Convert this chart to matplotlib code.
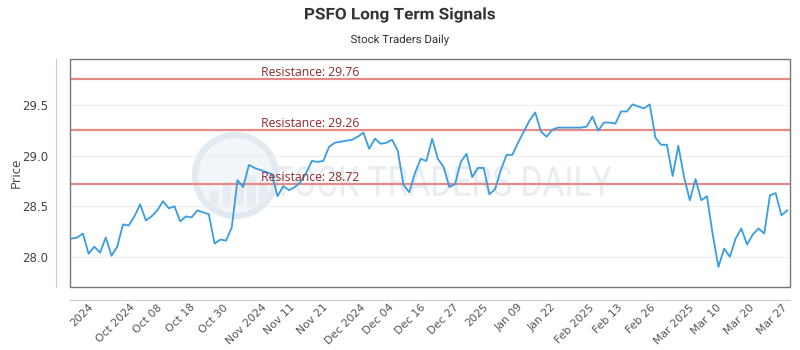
import numpy as np
import matplotlib
matplotlib.use('Agg')
import matplotlib.pyplot as plt
from matplotlib.patches import Rectangle, PathPatch
from matplotlib.textpath import TextPath
from matplotlib.font_manager import FontProperties
from matplotlib.transforms import Affine2D

# Closing prices, one per trading session
prices = [
    28.18, 28.19, 28.23, 28.03, 28.10, 28.04, 28.19, 28.01, 28.10, 28.32,
    28.31, 28.40, 28.52, 28.36, 28.40, 28.46, 28.55, 28.48, 28.50, 28.35,
    28.40, 28.39, 28.46, 28.44, 28.42, 28.13, 28.17, 28.16, 28.29, 28.76,
    28.69, 28.91, 28.88, 28.86, 28.84, 28.82, 28.60, 28.70, 28.66, 28.69,
    28.74, 28.83, 28.95, 28.94, 28.95, 29.09, 29.13, 29.14, 29.15, 29.16,
    29.19, 29.23, 29.07, 29.17, 29.12, 29.13, 29.16, 29.05, 28.71, 28.64,
    28.83, 28.97, 28.95, 29.17, 28.97, 28.89, 28.69, 28.72, 28.94, 29.02,
    28.79, 28.88, 28.88, 28.62, 28.67, 28.86, 29.01, 29.01, 29.13, 29.24,
    29.35, 29.43, 29.24, 29.19, 29.26, 29.28, 29.28, 29.28, 29.28, 29.28,
    29.29, 29.39, 29.25, 29.33, 29.33, 29.32, 29.44, 29.44, 29.51, 29.49,
    29.47, 29.51, 29.18, 29.11, 29.11, 28.80, 29.10, 28.79, 28.56, 28.77,
    28.56, 28.60, 28.22, 27.90, 28.08, 28.00, 28.18, 28.28, 28.12, 28.22,
    28.28, 28.23, 28.61, 28.63, 28.41, 28.46,
]

resistance = [29.76, 29.26, 28.72]

tick_labels = [
    '2024', 'Oct 2024', 'Oct 08', 'Oct 18', 'Oct 30', 'Nov 2024', 'Nov 11',
    'Nov 21', 'Dec 2024', 'Dec 04', 'Dec 16', 'Dec 27', '2025', 'Jan 09',
    'Jan 22', 'Feb 2025', 'Feb 13', 'Feb 26', 'Mar 2025', 'Mar 10', 'Mar 20',
    'Mar 27',
]

DPI = 100


def fitted_text(fig, s, xc, yc, size, width, color, weight='normal', zorder=3):
    # draw a text squeezed/stretched to a given pixel width, centred on (xc, yc)
    path = TextPath((0, 0), s, size=size, prop=FontProperties(family='Roboto', weight=weight))
    ext = path.get_extents()
    k = DPI / 72.0
    sx = width / (ext.width * k)
    tr = (Affine2D().translate(-ext.x0 - ext.width / 2, -ext.y0 - ext.height / 2)
          .scale(sx * k, k).translate(xc, yc))
    fig.add_artist(PathPatch(path, transform=tr, facecolor=color, edgecolor='none',
                             zorder=zorder))


x = np.arange(len(prices))

fig = plt.figure(figsize=(8, 3.5), dpi=DPI)
ax = fig.add_axes([0.0875, 0.18, 0.9, 0.6514])
ax.patch.set_facecolor('none')

# watermark (behind the axes)
fitted_text(fig, 'STOCK TRADERS DAILY', 433, 350 - 181, 30, 357, '#e8edf2', zorder=-2)
ax.scatter([0.229], [0.49], s=3400, transform=ax.transAxes, facecolor='#f3f6f9',
           edgecolor='#e1e9f1', linewidth=4.5, zorder=0)
for bx, bh in zip([0.195, 0.212, 0.229, 0.246, 0.263], [0.06, 0.1, 0.08, 0.13, 0.11]):
    ax.add_patch(Rectangle((bx, 0.36), 0.012, bh, transform=ax.transAxes,
                           facecolor='#e6ecf2', edgecolor='none', zorder=0))

ax.plot(x, prices, color='#3a9de0', linewidth=1.3, zorder=3)

for r in resistance:
    ax.axhline(r, color='#e58a86', linewidth=1.6, zorder=2)
    ax.text(0.265, r, 'Resistance: %.2f' % r, transform=ax.get_yaxis_transform(),
            ha='left', va='bottom', fontsize=8.8, color='#8e2b2b',
            family='Open Sans', zorder=4)

ax.set_xlim(-0.25, len(prices) - 0.5)
ax.set_ylim(27.70, 29.96)
ax.set_yticks([28.0, 28.5, 29.0, 29.5])
ax.yaxis.grid(True, color='#eeeeee', linewidth=0.8)
ax.set_axisbelow(True)

ax.set_xticks(np.linspace(1.9, 122.4, len(tick_labels)))
ax.set_xticklabels(tick_labels)
ax.tick_params(axis='y', length=0, pad=6, labelsize=8.5, labelcolor='#444444')
ax.tick_params(axis='x', length=0, pad=2, labelsize=7.8, labelcolor='#555555',
               labelrotation=45)
for lab in ax.get_xticklabels():
    lab.set_horizontalalignment('right')
    lab.set_rotation_mode('anchor')
    lab.set_family('Open Sans')
for lab in ax.get_yticklabels():
    lab.set_family('Open Sans')

for s in ['top', 'right']:
    ax.spines[s].set_visible(False)
ax.spines['left'].set_position(('outward', 10))
ax.spines['bottom'].set_position(('outward', 9))
ax.spines['left'].set_color('#cccccc')
ax.spines['bottom'].set_color('#cccccc')
ax.add_patch(Rectangle((0, 0), 1, 1, transform=ax.transAxes, fill=False,
                       edgecolor='#777777', linewidth=1, clip_on=False, zorder=5))

ax.set_ylabel('Price', fontsize=9.5, color='#444444', family='Open Sans')
ax.yaxis.set_label_coords(-0.066, 0.5)

fitted_text(fig, 'PSFO Long Term Signals', 400, 350 - 15, 11.5, 190, '#333333', weight='bold')
fitted_text(fig, 'Stock Traders Daily', 400, 350 - 40, 8.2, 98, '#333333')

fig.savefig('out.png', dpi=DPI)
